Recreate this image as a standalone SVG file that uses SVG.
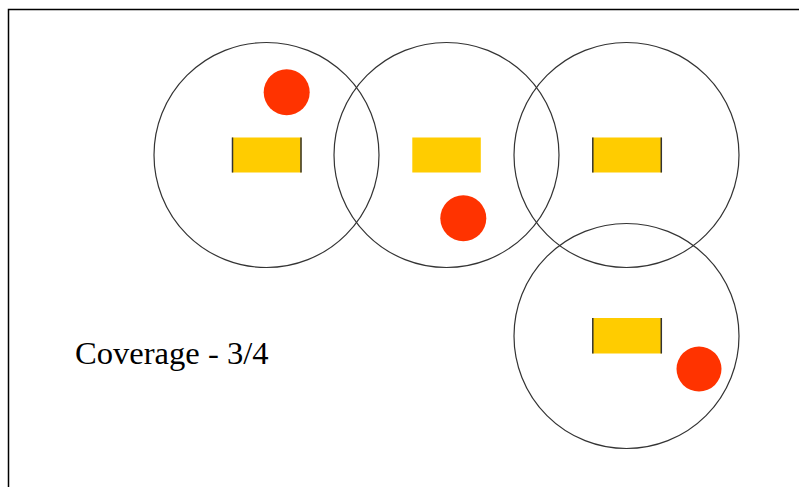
<svg xmlns="http://www.w3.org/2000/svg" width="799" height="487" viewBox="0 0 799 487">
<style>
.range{fill:none;stroke:#333;stroke-width:1.2}
.sensor{fill:#FFCC00}
.edge{stroke:#333;stroke-width:1.5}
.target{fill:#FF3300}
.label{font-family:"Liberation Serif","Times New Roman",serif;font-size:32.6px;fill:#000}
</style>
<rect width="799" height="487" fill="#fff"/>
<path d="M8.5,487 V9.5 H799" fill="none" stroke="#000" stroke-width="1.5"/>
<g id="node1">
<circle class="range" cx="266.5" cy="155" r="112.5"/>
<rect class="sensor" x="232" y="137.5" width="69.5" height="35"/>
<line class="edge" x1="232.5" y1="137.5" x2="232.5" y2="172.5"/>
<line class="edge" x1="301" y1="137.5" x2="301" y2="172.5"/>
</g>
<g id="node2">
<circle class="range" cx="446.5" cy="155" r="112.5"/>
<rect class="sensor" x="412.3" y="137.5" width="68.5" height="35"/>
</g>
<g id="node3">
<circle class="range" cx="626.5" cy="155" r="112.5"/>
<rect class="sensor" x="592.3" y="137.5" width="69.5" height="35"/>
<line class="edge" x1="592.8" y1="137.5" x2="592.8" y2="172.5"/>
<line class="edge" x1="661.3" y1="137.5" x2="661.3" y2="172.5"/>
</g>
<g id="node4">
<circle class="range" cx="626.5" cy="336" r="112.5"/>
<rect class="sensor" x="592.3" y="318" width="69.5" height="35.5"/>
<line class="edge" x1="592.8" y1="318" x2="592.8" y2="353.5"/>
<line class="edge" x1="661.3" y1="318" x2="661.3" y2="353.5"/>
</g>
<g id="targets">
<circle class="target" cx="286.7" cy="92.3" r="23"/>
<circle class="target" cx="463.3" cy="218.3" r="23"/>
<circle class="target" cx="699" cy="369" r="22.5"/>
</g>
<g id="connectors"></g>
<text class="label" x="75" y="364.3">Coverage - 3/4</text>
</svg>
